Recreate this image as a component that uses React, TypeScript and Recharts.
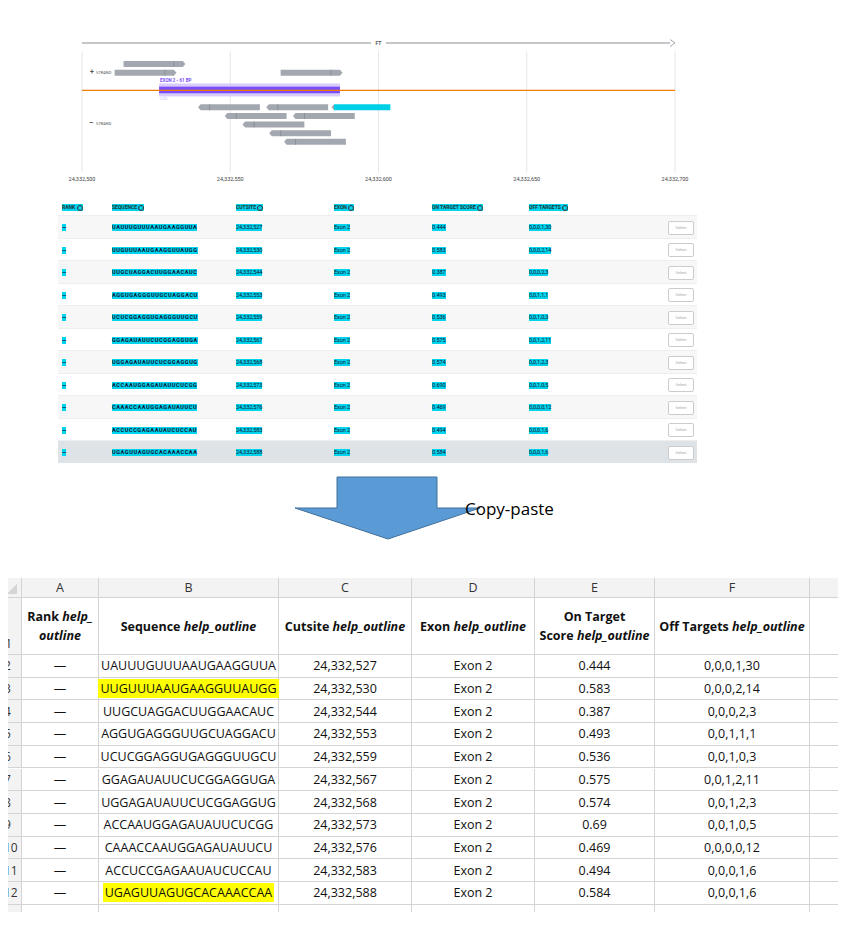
import React from 'react';
import { BarChart, Bar, XAxis, YAxis, CartesianGrid, ReferenceLine } from 'recharts';

// ---------- genome track data ----------
const lanes = ['t0', 'p1', 'p2', 'g1', 'exon', 'g2', 'm1', 'm2', 'm3', 'm4', 'm5', 'b1', 'b2', 'b3'];
const segA: (number[] | null)[] = [null, [24332514, 24332534], [24332511, 24332531], null, [24332526, 24332587], null,
  [24332540, 24332560], [24332549, 24332569], [24332555, 24332575], [24332564, 24332584], [24332569, 24332589], null, null, null];
const segB: (number[] | null)[] = [null, null, [24332567, 24332587], null, null, null,
  [24332563, 24332583], [24332572, 24332592], null, null, null, null, null, null];
const segC: (number[] | null)[] = [null, null, null, null, null, null,
  [24332585, 24332604], null, null, null, null, null, null, null];
const strand = ['', '+', '+', '', 'e', '', '-', '-', '-', '-', '-', '', '', ''];
const axisTicks = [24332500, 24332550, 24332600, 24332650, 24332700];

// ---------- web table data ----------
const sequences = ['UAUUUGUUUAAUGAAGGUUA', 'UUGUUUAAUGAAGGUUAUGG', 'UUGCUAGGACUUGGAACAUC', 'AGGUGAGGGUUGCUAGGACU',
  'UCUCGGAGGUGAGGGUUGCU', 'GGAGAUAUUCUCGGAGGUGA', 'UGGAGAUAUUCUCGGAGGUG', 'ACCAAUGGAGAUAUUCUCGG',
  'CAAACCAAUGGAGAUAUUCU', 'ACCUCCGAGAAUAUCUCCAU', 'UGAGUUAGUGCACAAACCAA'];
const cutsites = ['24,332,527', '24,332,530', '24,332,544', '24,332,553', '24,332,559', '24,332,567', '24,332,568',
  '24,332,573', '24,332,576', '24,332,583', '24,332,588'];
const webScores = ['0.444', '0.583', '0.387', '0.493', '0.536', '0.575', '0.574', '0.690', '0.469', '0.494', '0.584'];
const sheetScores = ['0.444', '0.583', '0.387', '0.493', '0.536', '0.575', '0.574', '0.69', '0.469', '0.494', '0.584'];
const offTargets = ['0,0,0,1,30', '0,0,0,2,14', '0,0,0,2,3', '0,0,1,1,1', '0,0,1,0,3', '0,0,1,2,11', '0,0,1,2,3',
  '0,0,1,0,5', '0,0,0,0,12', '0,0,0,1,6', '0,0,0,1,6'];
const highlighted = [1, 10];
const webHeaders = ['RANK', 'SEQUENCE', 'CUTSITE', 'EXON', 'ON TARGET SCORE', 'OFF TARGETS'];
const colLetters = ['A', 'B', 'C', 'D', 'E', 'F', ''];

const trackData = lanes.map((l, i) => ({ lane: l, a: segA[i], b: segB[i], c: segC[i], strand: strand[i] }));

const GREY = '#a3a7b0';

const GreyShape = (p: any) => {
  const { x, y, width, height, payload } = p;
  if (!width || width <= 0) return null;
  const s = payload.strand;
  if (s === 'e') {
    const cy = y + height / 2;
    return (
      <g>
        <rect x={x} y={cy - 6.5} width={width} height={13} fill="#d9ccfb" />
        <rect x={x} y={cy - 3.3} width={width} height={6.6} fill="#7b4dfa" />
        <text x={x + 1} y={cy - 8} fontSize={4.5} fill="#7b4dfa" fontFamily="Roboto" fontWeight={700}>EXON 2 - 61 BP</text>
        <text x={x + 1} y={cy + 10} fontSize={4} fill="#c9b8fb" fontFamily="Roboto">CDS</text>
      </g>
    );
  }
  if (s === '+') {
    return (
      <g>
        <polygon points={`${x},${y} ${x + width},${y} ${x + width + 2.5},${y + height / 2} ${x + width},${y + height} ${x},${y + height}`} fill={GREY} />
        <line x1={x + width - 9} x2={x + width - 9} y1={y} y2={y + height} stroke="#7d818a" strokeWidth={0.6} />
      </g>
    );
  }
  return (
    <g>
      <polygon points={`${x},${y} ${x + width},${y} ${x + width},${y + height} ${x},${y + height} ${x - 2.5},${y + height / 2}`} fill={GREY} />
      <line x1={x + 9} x2={x + 9} y1={y} y2={y + height} stroke="#7d818a" strokeWidth={0.6} />
    </g>
  );
};

const CyanShape = (p: any) => {
  const { x, y, width, height } = p;
  if (!width || width <= 0) return null;
  return (
    <g>
      <polygon points={`${x},${y} ${x},${y + height} ${x - 2.5},${y + height / 2}`} fill={GREY} />
      <rect x={x} y={y} width={width} height={height} fill="#00cfe6" />
    </g>
  );
};

const AxisTick = (p: any) => (
  <text x={p.x} y={p.y + 1} textAnchor="middle" fontSize={5.5} fill="#444" fontFamily="Roboto">
    {Number(p.payload.value).toLocaleString('en-US')}
  </text>
);

const Track = () => (
  <BarChart width={846} height={200} data={trackData} layout="vertical"
    margin={{ top: 51.35, bottom: 0, left: 82, right: 171 }} barCategoryGap={0}>
    <CartesianGrid horizontal={false} stroke="#e6e6e6" />
    <XAxis type="number" domain={[24332500, 24332700]} ticks={axisTicks} axisLine={false} tickLine={false}
      tick={<AxisTick />} interval={0} height={27.55} />
    <YAxis yAxisId="a" type="category" dataKey="lane" hide />
    <YAxis yAxisId="b" type="category" dataKey="lane" hide />
    <YAxis yAxisId="c" type="category" dataKey="lane" hide />
    <ReferenceLine yAxisId="a" y="exon" stroke="#f07c00" strokeWidth={1.3} />
    <Bar yAxisId="a" dataKey="a" barSize={6} shape={<GreyShape />} isAnimationActive={false} />
    <Bar yAxisId="b" dataKey="b" barSize={6} shape={<GreyShape />} isAnimationActive={false} />
    <Bar yAxisId="c" dataKey="c" barSize={6} shape={<CyanShape />} isAnimationActive={false} />
  </BarChart>
);

const webCols = [62, 112, 236, 334, 432, 529];
const hl = { background: '#00d4ec' };

const WebTable = () => (
  <div style={{ position: 'absolute', left: 0, top: 0, fontFamily: 'Roboto', color: '#233' }}>
    {webHeaders.map((h, i) => (
      <div key={h} style={{ position: 'absolute', left: webCols[i], top: 204, fontSize: 5, fontWeight: 700, ...hl, whiteSpace: 'nowrap', lineHeight: '6px' }}>
        {h} <span style={{ display: 'inline-block', width: 4, height: 4, borderRadius: 3, border: '0.5px solid #333', verticalAlign: 'middle' }} />
      </div>
    ))}
    {sequences.map((s, i) => {
      const top = 215 + i * 22.5;
      const last = i === sequences.length - 1;
      return (
        <div key={s} style={{ position: 'absolute', left: 58, top, width: 639, height: 22.5,
          background: last ? '#dde3e6' : i % 2 === 0 ? '#f7f7f7' : '#fff', borderTop: '1px solid #eee', boxSizing: 'border-box' }}>
          {[ '—', s, cutsites[i], 'Exon 2', webScores[i], offTargets[i]].map((t, j) => (
            <span key={j} style={{ position: 'absolute', left: webCols[j] - 58, top: 8, fontSize: 5.6,
              fontWeight: j <= 1 ? 700 : 400, letterSpacing: j === 1 ? 0.55 : -0.1, lineHeight: '7px', whiteSpace: 'nowrap', ...hl, color: '#113' }}>{t}</span>
          ))}
          <span style={{ position: 'absolute', left: 610, top: 4.5, width: 24, height: 12, border: '1px solid #ccc', borderRadius: 2,
            fontSize: 4, color: '#aaa', textAlign: 'center', lineHeight: '12px', background: '#fff' }}>Select</span>
        </div>
      );
    })}
  </div>
);

const colEdges = [0, 22, 99, 279, 412, 535, 655, 810, 846];
const rowTop = 655;
const rowH = 22.7;

const Sheet = () => {
  const border = '1px solid #d4d4d4';
  const cell = (l: number, r: number, t: number, h: number, extra: any, content: any, key: string) => (
    <div key={key} style={{ position: 'absolute', left: l, top: t, width: r - l, height: h, borderRight: border, borderBottom: border,
      boxSizing: 'border-box', display: 'flex', alignItems: 'center', justifyContent: 'center', textAlign: 'center', ...extra }}>{content}</div>
  );
  const hdrs: any[] = [
    <span>Rank <i>help_</i><br /><i>outline</i></span>,
    <span>Sequence <i>help_outline</i></span>,
    <span>Cutsite <i>help_outline</i></span>,
    <span>Exon <i>help_outline</i></span>,
    <span>On Target<br />Score <i>help_outline</i></span>,
    <span>Off Targets <i>help_outline</i></span>,
    <span />,
  ];
  const els: any[] = [];
  const hb = { background: '#f3f3f3', color: '#333' };
  els.push(cell(0, 22, 578, 20, hb, <svg width={12} height={12}><polygon points="12,2 12,12 2,12" fill="#d4d4d4" /></svg>, 'corner'));
  colLetters.forEach((c, i) => els.push(cell(colEdges[i + 1], colEdges[i + 2], 578, 20, hb, c, 'L' + i)));
  els.push(cell(0, 22, 598, 57, { ...hb, alignItems: 'flex-end', justifyContent: 'flex-start', paddingLeft: 5, paddingBottom: 2 }, '1', 'r1'));
  hdrs.forEach((h, i) => els.push(cell(colEdges[i + 1], colEdges[i + 2], 598, 57, { fontWeight: 700, lineHeight: '19px' }, h, 'h' + i)));
  for (let r = 0; r < 12; r++) {
    const t = rowTop + r * rowH;
    els.push(cell(0, 22, t, rowH, { ...hb, justifyContent: 'flex-start', paddingLeft: 4, fontSize: 12, overflow: 'visible' }, r < 11 ? String(r + 2) : '', 'n' + r));
    if (r >= 11) { colEdges.slice(1, -1).forEach((l, j) => els.push(cell(l, colEdges[j + 2], t, rowH, {}, '', 'e' + j))); continue; }
    const vals = ['—', sequences[r], cutsites[r], 'Exon 2', sheetScores[r], offTargets[r], ''];
    vals.forEach((v, j) => {
      const content = j === 1 && highlighted.includes(r)
        ? <span style={{ background: '#ffff00', padding: '1px 2px' }}>{v}</span> : v;
      els.push(cell(colEdges[j + 1], colEdges[j + 2], t, rowH, {}, content, `c${r}_${j}`));
    });
  }
  return (
    <div style={{ position: 'absolute', left: 0, top: 0, width: 846, height: 912, overflow: 'hidden', fontFamily: 'Open Sans', fontSize: 12.5, color: '#111' }}>
      {els}
    </div>
  );
};

export default function App() {
  return (
    <div style={{ position: 'relative', width: 846, height: 933, margin: -8, background: '#fff', overflow: 'hidden' }}>
      <div style={{ position: 'absolute', left: 0, top: 0 }}><Track /></div>
      <svg width={846} height={200} style={{ position: 'absolute', left: 0, top: 0 }}>
        <line x1={82} x2={674} y1={43} y2={43} stroke="#8a8e96" strokeWidth={1} />
        <polyline points="670,39.5 675,43 670,46.5" fill="#fff" stroke="#8a8e96" strokeWidth={0.8} />
        <rect x={371} y={39} width={15} height={8} fill="#fff" />
        <text x={378.5} y={45} textAnchor="middle" fontSize={5} fontFamily="Roboto" fontWeight={700} fill="#555">FT</text>
        <text x={90} y={74} fontSize={7} fill="#555" fontFamily="Roboto" fontWeight={700}>+</text>
        <text x={96} y={73.5} fontSize={4} fill="#555" fontFamily="Roboto">STRAND</text>
        <text x={89} y={125} fontSize={7} fill="#555" fontFamily="Roboto" fontWeight={700}>–</text>
        <text x={96} y={125} fontSize={4} fill="#555" fontFamily="Roboto">STRAND</text>
      </svg>
      <WebTable />
      <svg width={846} height={80} style={{ position: 'absolute', left: 0, top: 470 }}>
        <polygon points="337,7 437,7 437,38 480,38 388,69 295,38 337,38" fill="#5b9bd5" stroke="#41719c" strokeWidth={1} />
        <text x={465} y={45} fontSize={17} fontFamily="Open Sans" fill="#000">Copy-paste</text>
      </svg>
      <Sheet />
    </div>
  );
}
